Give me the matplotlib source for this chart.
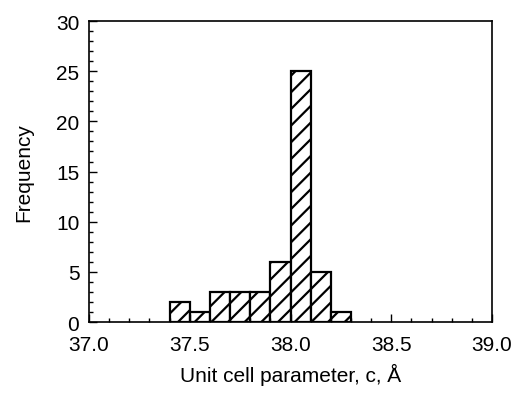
import numpy as np
import matplotlib.pyplot as plt
from matplotlib.ticker import MultipleLocator

plt.rcParams['font.family'] = ['Liberation Sans', 'DejaVu Sans']
plt.rcParams['hatch.linewidth'] = 1.6

# Гістограма параметра c
bin_left = [37.4, 37.5, 37.6, 37.7, 37.8, 37.9, 38.0, 38.1, 38.2]
counts = [2, 1, 3, 3, 3, 6, 25, 5, 1]
bin_width = 0.1

fig = plt.figure(figsize=(5.16, 4.02), dpi=100)
ax = fig.add_axes([0.1725, 0.1965, 0.781, 0.7485])

ax.bar(bin_left, counts, width=bin_width, align='edge', color='white',
       edgecolor='black', linewidth=1.6, hatch='//')

ax.set_xlim(37.0, 39.0)
ax.set_ylim(0, 30)
ax.xaxis.set_major_locator(MultipleLocator(0.5))
ax.xaxis.set_minor_locator(MultipleLocator(0.1))
ax.yaxis.set_major_locator(MultipleLocator(5))
ax.yaxis.set_minor_locator(MultipleLocator(1))
ax.xaxis.set_major_formatter(plt.FormatStrFormatter('%.1f'))
ax.tick_params(which='both', direction='in', top=False, right=False, labelsize=15)
ax.tick_params(axis='x', which='major', pad=9)
ax.tick_params(axis='y', which='major', pad=7)
ax.tick_params(which='major', length=6, width=1)
ax.tick_params(which='minor', length=3, width=1)
for s in ax.spines.values():
    s.set_linewidth(1.2)

ax.set_xlabel('Unit cell parameter, c, Å', fontsize=15, labelpad=7)
ax.set_ylabel('Frequency', fontsize=15, labelpad=16)

plt.savefig('out.png', dpi=100)
